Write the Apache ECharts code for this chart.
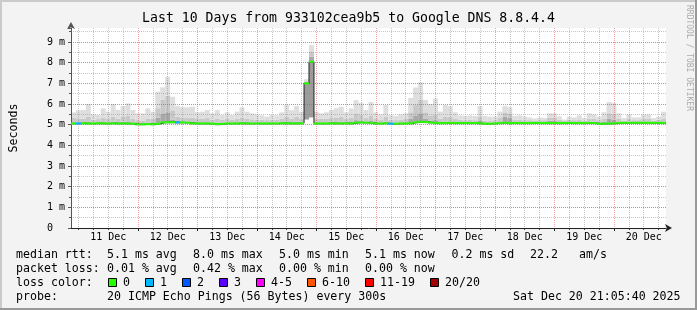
<!DOCTYPE html>
<html><head><meta charset="utf-8">
<script src="https://cdn.jsdelivr.net/npm/echarts@6/dist/echarts.min.js"></script>
<style>html,body{margin:0;padding:0;background:#f3f3f3}#c{width:697px;height:310px}</style>
</head><body><div id="c"></div>
<script>
// ---------------- data ----------------
const titleText = 'Last 10 Days from 933102cea9b5 to Google DNS 8.8.4.4';
const dayLabels = ['11 Dec','12 Dec','13 Dec','14 Dec','15 Dec','16 Dec','17 Dec','18 Dec','19 Dec','20 Dec'];
const yTickLabels = ['0','1 m','2 m','3 m','4 m','5 m','6 m','7 m','8 m','9 m'];
const binHours = 2; // each value covers 2 hours, first bin starts Dec 10 21:00

const medianRtt = [
 5.06,5.06,5.07,5.06,5.06,5.07,5.06,5.06,5.07,5.06,
 5.06,5.06,5.05,5.02,5.02,5.03,5.02,5.04,5.11,5.12,
 5.12,5.11,5.11,5.10,5.07,5.06,5.06,5.06,5.05,5.03,
 5.04,5.06,5.06,5.06,5.07,5.06,5.06,5.06,5.06,5.06,
 5.06,5.06,5.07,5.07,5.06,5.06,5.07,7.00,8.05,5.06,
 5.06,5.06,5.07,5.06,5.06,5.07,5.06,5.10,5.11,5.10,
 5.09,5.06,5.06,5.07,5.05,5.05,5.06,5.06,5.07,5.12,
 5.14,5.13,5.11,5.08,5.08,5.08,5.09,5.08,5.08,5.08,
 5.08,5.08,5.07,5.05,5.05,5.06,5.08,5.09,5.08,5.08,
 5.08,5.08,5.08,5.09,5.08,5.08,5.08,5.08,5.08,5.08,
 5.09,5.08,5.08,5.08,5.09,5.08,5.05,5.05,5.06,5.06,
 5.09,5.09,5.09,5.09,5.09,5.10,5.09,5.09,5.09,5.09];

const smokeLow = [
 5.00,5.00,5.01,5.00,5.00,5.01,5.00,5.00,5.01,5.00,
 5.00,5.00,4.99,4.97,4.97,4.98,4.97,4.99,5.05,5.06,
 5.06,5.05,5.05,5.04,5.01,5.00,5.00,5.00,4.99,4.97,
 4.98,5.00,5.00,5.00,5.01,5.00,5.00,5.00,5.00,5.00,
 5.00,5.00,5.01,5.01,5.00,5.00,5.01,5.25,5.35,5.00,
 5.00,5.00,5.01,5.00,5.00,5.01,5.00,5.04,5.05,5.04,
 5.03,5.00,5.00,5.01,4.99,4.99,5.00,5.00,5.01,5.06,
 5.08,5.07,5.05,5.02,5.02,5.02,5.03,5.02,5.02,5.02,
 5.02,5.02,5.01,4.99,4.99,5.00,5.02,5.03,5.02,5.02,
 5.02,5.02,5.02,5.03,5.02,5.02,5.02,5.02,5.02,5.02,
 5.03,5.02,5.02,5.02,5.03,5.02,4.99,4.99,5.00,5.00,
 5.03,5.03,5.03,5.03,5.03,5.04,5.03,5.03,5.03,5.03];

const smokeDark = [
 5.12,5.12,5.12,5.14,5.11,5.12,5.13,5.12,5.14,5.12,
 5.14,5.16,5.11,5.07,5.07,5.09,5.08,5.35,5.55,5.60,
 5.25,5.17,5.16,5.15,5.13,5.11,5.11,5.12,5.10,5.09,
 5.09,5.11,5.11,5.12,5.14,5.12,5.11,5.11,5.11,5.11,
 5.11,5.11,5.13,5.16,5.12,5.15,5.12,7.05,8.30,5.12,
 5.11,5.11,5.13,5.13,5.14,5.12,5.13,5.22,5.20,5.14,
 5.18,5.11,5.11,5.15,5.10,5.10,5.11,5.12,5.28,5.45,
 5.55,5.28,5.20,5.22,5.13,5.16,5.16,5.13,5.13,5.12,
 5.13,5.12,5.18,5.10,5.10,5.11,5.16,5.38,5.32,5.13,
 5.13,5.12,5.12,5.13,5.12,5.12,5.20,5.20,5.13,5.12,
 5.13,5.12,5.13,5.12,5.15,5.14,5.10,5.14,5.28,5.25,
 5.14,5.13,5.14,5.13,5.13,5.15,5.14,5.13,5.13,5.15];

const smokeMid = [
 5.35,5.30,5.28,5.40,5.25,5.27,5.35,5.30,5.38,5.30,
 5.40,5.45,5.30,5.22,5.20,5.30,5.28,5.80,6.20,6.40,
 5.70,5.40,5.35,5.32,5.35,5.28,5.30,5.32,5.25,5.30,
 5.25,5.28,5.24,5.28,5.35,5.28,5.26,5.25,5.24,5.22,
 5.25,5.24,5.28,5.40,5.30,5.38,5.30,7.10,8.55,5.30,
 5.28,5.28,5.32,5.35,5.38,5.30,5.35,5.55,5.50,5.32,
 5.45,5.28,5.25,5.40,5.24,5.22,5.25,5.28,5.60,5.95,
 6.20,5.60,5.45,5.50,5.30,5.40,5.38,5.28,5.24,5.22,
 5.24,5.22,5.40,5.20,5.20,5.22,5.32,5.60,5.55,5.24,
 5.25,5.22,5.22,5.20,5.22,5.22,5.35,5.35,5.25,5.18,
 5.24,5.22,5.26,5.20,5.30,5.28,5.22,5.30,5.55,5.50,
 5.28,5.20,5.28,5.22,5.22,5.28,5.28,5.20,5.24,5.30];

const smokeHigh = [
 5.60,5.70,5.71,6.00,5.50,5.47,5.79,5.63,6.00,5.71,
 5.90,6.03,5.71,5.55,5.55,5.79,5.63,6.60,6.81,7.32,
 6.35,5.90,5.85,5.84,5.87,5.60,5.63,5.71,5.55,5.70,
 5.47,5.60,5.47,5.63,5.84,5.63,5.55,5.50,5.45,5.39,
 5.47,5.45,5.60,5.95,5.70,5.90,5.63,7.20,8.85,5.63,
 5.55,5.60,5.71,5.80,5.87,5.60,5.79,6.19,6.06,5.71,
 6.10,5.60,5.50,5.95,5.47,5.42,5.50,5.55,6.30,6.80,
 7.05,6.20,6.00,6.27,5.63,5.95,5.90,5.60,5.45,5.42,
 5.45,5.42,5.90,5.42,5.39,5.40,5.63,5.90,5.85,5.42,
 5.45,5.40,5.35,5.30,5.35,5.32,5.55,5.55,5.40,5.25,
 5.39,5.35,5.45,5.32,5.55,5.50,5.39,5.60,6.10,6.05,
 5.55,5.32,5.50,5.35,5.35,5.50,5.50,5.32,5.39,5.63];

const lossOneBins = [1, 21, 64];

const rttLabel = 'median rtt:';
const rttItems = ['5.1 ms avg','8.0 ms max','5.0 ms min','5.1 ms now','0.2 ms sd','22.2','am/s'];
const lossLabel = 'packet loss:';
const lossItems = ['0.01 % avg','0.42 % max','0.00 % min','0.00 % now'];
const lossColorLabel = 'loss color:';
const lossColorNames = ['0','1','2','3','4-5','6-10','11-19','20/20'];
const lossColors = ['#26ff00','#00b8ff','#0059ff','#5e00ff','#ff00ff','#ff5500','#ff0000','#a00000'];
const probeLabel = 'probe:';
const probeText = '20 ICMP Echo Pings (56 Bytes) every 300s';
const dateText = 'Sat Dec 20 21:05:40 2025';
const sideText = 'RRDTOOL / TOBI OETIKER';

// ---------------- chart ----------------
const F = '"DejaVu Sans Mono", monospace';
const chart = echarts.init(document.getElementById('c'), null, {renderer: 'canvas'});
const binStart = medianRtt.map((_, i) => i * binHours);
const tickCats = Array.from({length: 81}, (_, k) => String(k)); // 3-hour steps from Dec 10 21:00
const isMajor = (i) => i % 8 === 1 && i > 1;       // midnights (first one drawn as minor, like the original)
const isMinor = (i) => i % 2 === 1 && !isMajor(i); // every 6 hours

function band(lo, hi, color, z) {
  return {
    type: 'custom', xAxisIndex: 0, yAxisIndex: 0, z: z, silent: true,
    data: lo.map((l, i) => [binStart[i], binStart[i] + binHours, l, hi[i]]),
    encode: {x: [0, 1], y: [2, 3]},
    renderItem: function (params, api) {
      const a = api.coord([api.value(0), api.value(2)]);
      const b = api.coord([api.value(1), api.value(3)]);
      return {type: 'rect', shape: {x: a[0], y: b[1], width: b[0] - a[0], height: a[1] - b[1]},
              style: {fill: color}};
    }
  };
}

const redLine = {color: 'rgba(224,80,80,0.55)', type: [1, 1], width: 1};
const grayLine = {color: 'rgba(130,130,130,0.45)', type: [1, 1], width: 1};

const lineY = [254.5, 268.5, 282.5, 296.5];
const colX = [107, 193, 279, 365, 451.5, 530, 579];
function txt(x, y, s, extra) {
  return Object.assign({type: 'text', x: x, y: y, silent: true,
    style: {text: s, fill: '#000', font: '11.6px "DejaVu Sans Mono"', verticalAlign: 'middle', align: 'left'}}, extra || {});
}
const graphics = [];
graphics.push(txt(16, lineY[0], rttLabel));
rttItems.forEach((s, i) => graphics.push(txt(colX[i], lineY[0], s)));
graphics.push(txt(16, lineY[1], lossLabel));
lossItems.forEach((s, i) => graphics.push(txt(colX[i], lineY[1], s)));
graphics.push(txt(16, lineY[2], lossColorLabel));
const sqX = [108, 145, 182, 219, 256, 307, 365, 430];
lossColorNames.forEach((s, i) => {
  graphics.push({type: 'rect', silent: true, shape: {x: sqX[i] + 0.5, y: lineY[2] - 4, width: 8, height: 8},
    style: {fill: lossColors[i], stroke: '#000', lineWidth: 1}});
  graphics.push(txt(sqX[i] + 15, lineY[2], s));
});
graphics.push(txt(16, lineY[3], probeLabel));
graphics.push(txt(107, lineY[3], probeText));
graphics.push(txt(513, lineY[3], dateText));
graphics.push({type: 'text', x: 348.5, y: 19, silent: true,
  style: {text: titleText, fill: '#000', font: '13.2px "DejaVu Sans Mono"', align: 'center', verticalAlign: 'middle'}});
graphics.push({type: 'text', x: 689, y: 5, rotation: -Math.PI / 2, silent: true,
  style: {text: sideText, fill: '#aaaaaa', font: '8px "DejaVu Sans Mono"', align: 'left', verticalAlign: 'middle'}});
// frame
graphics.push({type: 'rect', silent: true, shape: {x: 0, y: 0, width: 697, height: 2}, style: {fill: '#cbcbcb'}});
graphics.push({type: 'rect', silent: true, shape: {x: 0, y: 0, width: 2, height: 310}, style: {fill: '#cbcbcb'}});
graphics.push({type: 'rect', silent: true, shape: {x: 0, y: 308, width: 697, height: 2}, style: {fill: '#999999'}});
graphics.push({type: 'rect', silent: true, shape: {x: 695, y: 0, width: 2, height: 310}, style: {fill: '#999999'}});

const option = {
  animation: false,
  backgroundColor: '#f3f3f3',
  grid: {left: 66, top: 28, width: 600, height: 200, show: true, backgroundColor: '#ffffff', borderWidth: 0},
  xAxis: [
    {type: 'value', min: 0, max: 240, show: false},
    {type: 'category', data: tickCats, boundaryGap: false, position: 'bottom', z: 5,
      axisLine: {show: false, onZero: false},
      axisTick: {show: true, length: 2, interval: (i) => isMinor(i), lineStyle: {color: '#444'}},
      axisLabel: {show: false},
      splitLine: {show: true, interval: (i) => isMinor(i), lineStyle: grayLine}},
    {type: 'category', data: tickCats, boundaryGap: false, position: 'bottom', z: 6,
      axisLine: {show: true, onZero: false, lineStyle: {color: '#222', width: 1}, symbol: ['none', 'arrow'], symbolSize: [6, 7], symbolOffset: [0, 6]},
      axisTick: {show: true, length: 3, interval: (i) => isMajor(i), lineStyle: {color: '#222'}},
      axisLabel: {show: true, interval: (i) => i % 8 === 5, margin: 4,
        formatter: (v, i) => dayLabels[(i - 5) / 8] || '',
        fontFamily: F, fontSize: 10, color: '#000'},
      splitLine: {show: true, interval: (i) => isMajor(i), lineStyle: redLine}}
  ],
  yAxis: [
    {type: 'value', min: 0, max: 9.68, interval: 1, position: 'left', z: 6,
      name: 'Seconds', nameLocation: 'middle', nameGap: 51,
      nameTextStyle: {fontFamily: F, fontSize: 11.6, color: '#000'},
      axisLine: {show: true, onZero: false, lineStyle: {color: '#555', width: 1}, symbol: ['none', 'arrow'], symbolSize: [6, 7], symbolOffset: [0, 6]},
      axisTick: {show: true, length: 3, lineStyle: {color: '#555'}},
      axisLabel: {align: 'left', margin: 24, fontFamily: F, fontSize: 10, color: '#000',
        formatter: (v) => Math.abs(v - Math.round(v)) < 1e-6 ? (yTickLabels[Math.round(v)] || '') : ''},
      splitLine: {show: true, showMaxLine: false, lineStyle: redLine}},
    {type: 'value', min: 0, max: 9.68, interval: 0.5, position: 'left', z: 5,
      axisLine: {show: false, onZero: false}, axisLabel: {show: false},
      axisTick: {show: true, length: 2, lineStyle: {color: '#555'}},
      splitLine: {show: true, showMaxLine: false, lineStyle: grayLine}}
  ],
  series: [
    band(smokeLow, medianRtt, '#9c9c9c', 2),
    band(medianRtt, smokeDark, '#a8a8a8', 2),
    band(smokeDark, smokeMid, '#c8c8c8', 2),
    band(smokeMid, smokeHigh, '#dedede', 2),
    {type: 'line', xAxisIndex: 0, yAxisIndex: 0, step: 'end', symbol: 'none', z: 8, silent: true,
      lineStyle: {color: '#202020', width: 1},
      data: binStart.map((x, i) => [x, medianRtt[i]]).concat([[240, medianRtt[medianRtt.length - 1]]])},
    {type: 'custom', xAxisIndex: 0, yAxisIndex: 0, z: 9, silent: true,
      data: medianRtt.map((m, i) => [binStart[i], binStart[i] + binHours, m, lossOneBins.indexOf(i) >= 0 ? 1 : 0]),
      encode: {x: [0, 1], y: 2},
      renderItem: function (params, api) {
        const a = api.coord([api.value(0), api.value(2)]);
        const b = api.coord([api.value(1), api.value(2)]);
        return {type: 'line', shape: {x1: a[0], y1: a[1], x2: b[0], y2: b[1]},
                style: {stroke: lossColors[api.value(3)], lineWidth: 2}};
      }}
  ],
  graphic: graphics
};
chart.setOption(option);
</script>
</body></html>
